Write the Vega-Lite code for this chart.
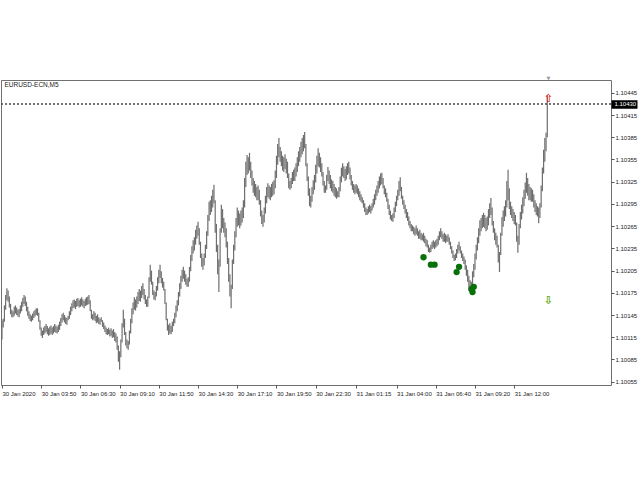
{
"$schema":"https://vega.github.io/schema/vega-lite/v6.json",
"width":610,"height":305,
"autosize":{"type":"none"},
"padding":{"left":1,"top":80,"right":29,"bottom":95},
"background":"white",
"config":{"view":{"stroke":"#707070","strokeWidth":1},"font":"Liberation Sans",
 "axis":{"title":null,"grid":false,"domain":false,"labelOverlap":false,"labelFlush":false,"labelBound":false,"labelFontSize":6,"labelFont":"Liberation Sans","labelColor":"#222","tickColor":"#555","tickSize":3},
 "axisX":{"labelAlign":"left","labelPadding":2},
 "axisY":{"labelPadding":1}},
"resolve":{"axis":{"y":"independent"}},
"datasets":{"bars":[
{"t":"2020-01-30T01:10Z","h":1.10138,"l":1.10112},{"t":"2020-01-30T01:15Z","h":1.10140,"l":1.10128},{"t":"2020-01-30T01:20Z","h":1.10158,"l":1.10136},{"t":"2020-01-30T01:25Z","h":1.10172,"l":1.10152},{"t":"2020-01-30T01:30Z","h":1.10181,"l":1.10165},{"t":"2020-01-30T01:35Z","h":1.10178,"l":1.10163},{"t":"2020-01-30T01:40Z","h":1.10170,"l":1.10155},{"t":"2020-01-30T01:45Z","h":1.10160,"l":1.10146},{"t":"2020-01-30T01:50Z","h":1.10152,"l":1.10142},{"t":"2020-01-30T01:55Z","h":1.10150,"l":1.10142},
{"t":"2020-01-30T02:00Z","h":1.10156,"l":1.10144},{"t":"2020-01-30T02:05Z","h":1.10158,"l":1.10147},{"t":"2020-01-30T02:10Z","h":1.10155,"l":1.10145},{"t":"2020-01-30T02:15Z","h":1.10152,"l":1.10143},{"t":"2020-01-30T02:20Z","h":1.10153,"l":1.10142},{"t":"2020-01-30T02:25Z","h":1.10158,"l":1.10147},{"t":"2020-01-30T02:30Z","h":1.10163,"l":1.10150},{"t":"2020-01-30T02:35Z","h":1.10168,"l":1.10156},{"t":"2020-01-30T02:40Z","h":1.10172,"l":1.10160},{"t":"2020-01-30T02:45Z","h":1.10170,"l":1.10157},{"t":"2020-01-30T02:50Z","h":1.10163,"l":1.10150},{"t":"2020-01-30T02:55Z","h":1.10156,"l":1.10144},
{"t":"2020-01-30T03:00Z","h":1.10150,"l":1.10140},{"t":"2020-01-30T03:05Z","h":1.10146,"l":1.10137},{"t":"2020-01-30T03:10Z","h":1.10144,"l":1.10136},{"t":"2020-01-30T03:15Z","h":1.10147,"l":1.10138},{"t":"2020-01-30T03:20Z","h":1.10150,"l":1.10141},{"t":"2020-01-30T03:25Z","h":1.10152,"l":1.10143},{"t":"2020-01-30T03:30Z","h":1.10154,"l":1.10145},{"t":"2020-01-30T03:35Z","h":1.10154,"l":1.10144},{"t":"2020-01-30T03:40Z","h":1.10148,"l":1.10136},{"t":"2020-01-30T03:45Z","h":1.10138,"l":1.10125},{"t":"2020-01-30T03:50Z","h":1.10128,"l":1.10117},{"t":"2020-01-30T03:55Z","h":1.10124,"l":1.10114},
{"t":"2020-01-30T04:00Z","h":1.10128,"l":1.10118},{"t":"2020-01-30T04:05Z","h":1.10130,"l":1.10120},{"t":"2020-01-30T04:10Z","h":1.10133,"l":1.10122},{"t":"2020-01-30T04:15Z","h":1.10130,"l":1.10119},{"t":"2020-01-30T04:20Z","h":1.10127,"l":1.10117},{"t":"2020-01-30T04:25Z","h":1.10129,"l":1.10118},{"t":"2020-01-30T04:30Z","h":1.10131,"l":1.10120},{"t":"2020-01-30T04:35Z","h":1.10128,"l":1.10118},{"t":"2020-01-30T04:40Z","h":1.10130,"l":1.10120},{"t":"2020-01-30T04:45Z","h":1.10133,"l":1.10122},{"t":"2020-01-30T04:50Z","h":1.10131,"l":1.10121},{"t":"2020-01-30T04:55Z","h":1.10129,"l":1.10120},
{"t":"2020-01-30T05:00Z","h":1.10132,"l":1.10122},{"t":"2020-01-30T05:05Z","h":1.10136,"l":1.10125},{"t":"2020-01-30T05:10Z","h":1.10141,"l":1.10130},{"t":"2020-01-30T05:15Z","h":1.10146,"l":1.10135},{"t":"2020-01-30T05:20Z","h":1.10148,"l":1.10138},{"t":"2020-01-30T05:25Z","h":1.10145,"l":1.10135},{"t":"2020-01-30T05:30Z","h":1.10142,"l":1.10133},{"t":"2020-01-30T05:35Z","h":1.10141,"l":1.10132},{"t":"2020-01-30T05:40Z","h":1.10144,"l":1.10138},{"t":"2020-01-30T05:45Z","h":1.10150,"l":1.10140},{"t":"2020-01-30T05:50Z","h":1.10156,"l":1.10145},{"t":"2020-01-30T05:55Z","h":1.10161,"l":1.10150},
{"t":"2020-01-30T06:00Z","h":1.10165,"l":1.10154},{"t":"2020-01-30T06:05Z","h":1.10166,"l":1.10155},{"t":"2020-01-30T06:10Z","h":1.10164,"l":1.10153},{"t":"2020-01-30T06:15Z","h":1.10167,"l":1.10156},{"t":"2020-01-30T06:20Z","h":1.10168,"l":1.10157},{"t":"2020-01-30T06:25Z","h":1.10165,"l":1.10155},{"t":"2020-01-30T06:30Z","h":1.10167,"l":1.10156},{"t":"2020-01-30T06:35Z","h":1.10169,"l":1.10158},{"t":"2020-01-30T06:40Z","h":1.10166,"l":1.10156},{"t":"2020-01-30T06:45Z","h":1.10164,"l":1.10154},{"t":"2020-01-30T06:50Z","h":1.10167,"l":1.10157},{"t":"2020-01-30T06:55Z","h":1.10169,"l":1.10158},
{"t":"2020-01-30T07:00Z","h":1.10170,"l":1.10159},{"t":"2020-01-30T07:05Z","h":1.10172,"l":1.10160},{"t":"2020-01-30T07:10Z","h":1.10165,"l":1.10150},{"t":"2020-01-30T07:15Z","h":1.10152,"l":1.10140},{"t":"2020-01-30T07:20Z","h":1.10146,"l":1.10138},{"t":"2020-01-30T07:25Z","h":1.10150,"l":1.10139},{"t":"2020-01-30T07:30Z","h":1.10148,"l":1.10137},{"t":"2020-01-30T07:35Z","h":1.10144,"l":1.10134},{"t":"2020-01-30T07:40Z","h":1.10146,"l":1.10135},{"t":"2020-01-30T07:45Z","h":1.10142,"l":1.10133},{"t":"2020-01-30T07:50Z","h":1.10140,"l":1.10132},{"t":"2020-01-30T07:55Z","h":1.10142,"l":1.10136},
{"t":"2020-01-30T08:00Z","h":1.10138,"l":1.10129},{"t":"2020-01-30T08:05Z","h":1.10135,"l":1.10126},{"t":"2020-01-30T08:10Z","h":1.10131,"l":1.10122},{"t":"2020-01-30T08:15Z","h":1.10128,"l":1.10119},{"t":"2020-01-30T08:20Z","h":1.10126,"l":1.10118},{"t":"2020-01-30T08:25Z","h":1.10128,"l":1.10119},{"t":"2020-01-30T08:30Z","h":1.10125,"l":1.10116},{"t":"2020-01-30T08:35Z","h":1.10127,"l":1.10117},{"t":"2020-01-30T08:40Z","h":1.10124,"l":1.10114},{"t":"2020-01-30T08:45Z","h":1.10126,"l":1.10115},{"t":"2020-01-30T08:50Z","h":1.10122,"l":1.10110},{"t":"2020-01-30T08:55Z","h":1.10120,"l":1.10108},
{"t":"2020-01-30T09:00Z","h":1.10116,"l":1.10098},{"t":"2020-01-30T09:05Z","h":1.10104,"l":1.10082},{"t":"2020-01-30T09:10Z","h":1.10096,"l":1.10071},{"t":"2020-01-30T09:15Z","h":1.10112,"l":1.10088},{"t":"2020-01-30T09:20Z","h":1.10134,"l":1.10108},{"t":"2020-01-30T09:25Z","h":1.10152,"l":1.10128},{"t":"2020-01-30T09:30Z","h":1.10140,"l":1.10118},{"t":"2020-01-30T09:35Z","h":1.10122,"l":1.10104},{"t":"2020-01-30T09:40Z","h":1.10112,"l":1.10100},{"t":"2020-01-30T09:45Z","h":1.10110,"l":1.10098},{"t":"2020-01-30T09:50Z","h":1.10124,"l":1.10105},{"t":"2020-01-30T09:55Z","h":1.10140,"l":1.10120},
{"t":"2020-01-30T10:00Z","h":1.10154,"l":1.10134},{"t":"2020-01-30T10:05Z","h":1.10162,"l":1.10146},{"t":"2020-01-30T10:10Z","h":1.10169,"l":1.10152},{"t":"2020-01-30T10:15Z","h":1.10166,"l":1.10151},{"t":"2020-01-30T10:20Z","h":1.10170,"l":1.10155},{"t":"2020-01-30T10:25Z","h":1.10176,"l":1.10160},{"t":"2020-01-30T10:30Z","h":1.10180,"l":1.10164},{"t":"2020-01-30T10:35Z","h":1.10178,"l":1.10163},{"t":"2020-01-30T10:40Z","h":1.10184,"l":1.10168},{"t":"2020-01-30T10:45Z","h":1.10188,"l":1.10172},{"t":"2020-01-30T10:50Z","h":1.10180,"l":1.10166},{"t":"2020-01-30T10:55Z","h":1.10172,"l":1.10160},
{"t":"2020-01-30T11:00Z","h":1.10166,"l":1.10156},{"t":"2020-01-30T11:05Z","h":1.10170,"l":1.10156},{"t":"2020-01-30T11:10Z","h":1.10196,"l":1.10168},{"t":"2020-01-30T11:15Z","h":1.10213,"l":1.10190},{"t":"2020-01-30T11:20Z","h":1.10205,"l":1.10186},{"t":"2020-01-30T11:25Z","h":1.10190,"l":1.10172},{"t":"2020-01-30T11:30Z","h":1.10178,"l":1.10166},{"t":"2020-01-30T11:35Z","h":1.10176,"l":1.10165},{"t":"2020-01-30T11:40Z","h":1.10184,"l":1.10170},{"t":"2020-01-30T11:45Z","h":1.10196,"l":1.10178},{"t":"2020-01-30T11:50Z","h":1.10206,"l":1.10188},{"t":"2020-01-30T11:55Z","h":1.10213,"l":1.10195},
{"t":"2020-01-30T12:00Z","h":1.10204,"l":1.10188},{"t":"2020-01-30T12:05Z","h":1.10195,"l":1.10182},{"t":"2020-01-30T12:10Z","h":1.10190,"l":1.10178},{"t":"2020-01-30T12:15Z","h":1.10180,"l":1.10160},{"t":"2020-01-30T12:20Z","h":1.10162,"l":1.10138},{"t":"2020-01-30T12:25Z","h":1.10140,"l":1.10124},{"t":"2020-01-30T12:30Z","h":1.10132,"l":1.10118},{"t":"2020-01-30T12:35Z","h":1.10134,"l":1.10120},{"t":"2020-01-30T12:40Z","h":1.10130,"l":1.10119},{"t":"2020-01-30T12:45Z","h":1.10136,"l":1.10122},{"t":"2020-01-30T12:50Z","h":1.10140,"l":1.10130},{"t":"2020-01-30T12:55Z","h":1.10148,"l":1.10134},
{"t":"2020-01-30T13:00Z","h":1.10158,"l":1.10142},{"t":"2020-01-30T13:05Z","h":1.10165,"l":1.10150},{"t":"2020-01-30T13:10Z","h":1.10176,"l":1.10158},{"t":"2020-01-30T13:15Z","h":1.10188,"l":1.10170},{"t":"2020-01-30T13:20Z","h":1.10198,"l":1.10180},{"t":"2020-01-30T13:25Z","h":1.10206,"l":1.10190},{"t":"2020-01-30T13:30Z","h":1.10210,"l":1.10194},{"t":"2020-01-30T13:35Z","h":1.10205,"l":1.10190},{"t":"2020-01-30T13:40Z","h":1.10200,"l":1.10186},{"t":"2020-01-30T13:45Z","h":1.10194,"l":1.10183},{"t":"2020-01-30T13:50Z","h":1.10196,"l":1.10183},{"t":"2020-01-30T13:55Z","h":1.10210,"l":1.10190},
{"t":"2020-01-30T14:00Z","h":1.10226,"l":1.10204},{"t":"2020-01-30T14:05Z","h":1.10238,"l":1.10218},{"t":"2020-01-30T14:10Z","h":1.10246,"l":1.10228},{"t":"2020-01-30T14:15Z","h":1.10250,"l":1.10232},{"t":"2020-01-30T14:20Z","h":1.10260,"l":1.10240},{"t":"2020-01-30T14:25Z","h":1.10266,"l":1.10248},{"t":"2020-01-30T14:30Z","h":1.10271,"l":1.10252},{"t":"2020-01-30T14:35Z","h":1.10262,"l":1.10240},{"t":"2020-01-30T14:40Z","h":1.10244,"l":1.10222},{"t":"2020-01-30T14:45Z","h":1.10228,"l":1.10210},{"t":"2020-01-30T14:50Z","h":1.10222,"l":1.10206},{"t":"2020-01-30T14:55Z","h":1.10228,"l":1.10212},
{"t":"2020-01-30T15:00Z","h":1.10240,"l":1.10222},{"t":"2020-01-30T15:05Z","h":1.10258,"l":1.10234},{"t":"2020-01-30T15:10Z","h":1.10280,"l":1.10252},{"t":"2020-01-30T15:15Z","h":1.10298,"l":1.10272},{"t":"2020-01-30T15:20Z","h":1.10300,"l":1.10280},{"t":"2020-01-30T15:25Z","h":1.10306,"l":1.10284},{"t":"2020-01-30T15:30Z","h":1.10314,"l":1.10290},{"t":"2020-01-30T15:35Z","h":1.10321,"l":1.10296},{"t":"2020-01-30T15:40Z","h":1.10300,"l":1.10256},{"t":"2020-01-30T15:45Z","h":1.10268,"l":1.10230},{"t":"2020-01-30T15:50Z","h":1.10240,"l":1.10200},{"t":"2020-01-30T15:55Z","h":1.10220,"l":1.10176},
{"t":"2020-01-30T16:00Z","h":1.10262,"l":1.10210},{"t":"2020-01-30T16:05Z","h":1.10294,"l":1.10256},{"t":"2020-01-30T16:10Z","h":1.10288,"l":1.10262},{"t":"2020-01-30T16:15Z","h":1.10276,"l":1.10256},{"t":"2020-01-30T16:20Z","h":1.10270,"l":1.10250},{"t":"2020-01-30T16:25Z","h":1.10262,"l":1.10236},{"t":"2020-01-30T16:30Z","h":1.10244,"l":1.10214},{"t":"2020-01-30T16:35Z","h":1.10222,"l":1.10190},{"t":"2020-01-30T16:40Z","h":1.10200,"l":1.10170},{"t":"2020-01-30T16:45Z","h":1.10186,"l":1.10154},{"t":"2020-01-30T16:50Z","h":1.10220,"l":1.10180},{"t":"2020-01-30T16:55Z","h":1.10240,"l":1.10214},
{"t":"2020-01-30T17:00Z","h":1.10258,"l":1.10232},{"t":"2020-01-30T17:05Z","h":1.10276,"l":1.10250},{"t":"2020-01-30T17:10Z","h":1.10290,"l":1.10264},{"t":"2020-01-30T17:15Z","h":1.10286,"l":1.10266},{"t":"2020-01-30T17:20Z","h":1.10282,"l":1.10262},{"t":"2020-01-30T17:25Z","h":1.10286,"l":1.10266},{"t":"2020-01-30T17:30Z","h":1.10290,"l":1.10270},{"t":"2020-01-30T17:35Z","h":1.10300,"l":1.10276},{"t":"2020-01-30T17:40Z","h":1.10330,"l":1.10290},{"t":"2020-01-30T17:45Z","h":1.10352,"l":1.10318},{"t":"2020-01-30T17:50Z","h":1.10361,"l":1.10334},{"t":"2020-01-30T17:55Z","h":1.10358,"l":1.10336},
{"t":"2020-01-30T18:00Z","h":1.10364,"l":1.10340},{"t":"2020-01-30T18:05Z","h":1.10352,"l":1.10330},{"t":"2020-01-30T18:10Z","h":1.10340,"l":1.10320},{"t":"2020-01-30T18:15Z","h":1.10330,"l":1.10310},{"t":"2020-01-30T18:20Z","h":1.10326,"l":1.10306},{"t":"2020-01-30T18:25Z","h":1.10322,"l":1.10304},{"t":"2020-01-30T18:30Z","h":1.10318,"l":1.10300},{"t":"2020-01-30T18:35Z","h":1.10320,"l":1.10300},{"t":"2020-01-30T18:40Z","h":1.10314,"l":1.10294},{"t":"2020-01-30T18:45Z","h":1.10300,"l":1.10278},{"t":"2020-01-30T18:50Z","h":1.10286,"l":1.10268},{"t":"2020-01-30T18:55Z","h":1.10280,"l":1.10264},
{"t":"2020-01-30T19:00Z","h":1.10290,"l":1.10270},{"t":"2020-01-30T19:05Z","h":1.10306,"l":1.10282},{"t":"2020-01-30T19:10Z","h":1.10318,"l":1.10296},{"t":"2020-01-30T19:15Z","h":1.10323,"l":1.10304},{"t":"2020-01-30T19:20Z","h":1.10320,"l":1.10302},{"t":"2020-01-30T19:25Z","h":1.10318,"l":1.10300},{"t":"2020-01-30T19:30Z","h":1.10322,"l":1.10304},{"t":"2020-01-30T19:35Z","h":1.10325,"l":1.10306},{"t":"2020-01-30T19:40Z","h":1.10327,"l":1.10308},{"t":"2020-01-30T19:45Z","h":1.10340,"l":1.10316},{"t":"2020-01-30T19:50Z","h":1.10360,"l":1.10330},{"t":"2020-01-30T19:55Z","h":1.10376,"l":1.10348},
{"t":"2020-01-30T20:00Z","h":1.10384,"l":1.10358},{"t":"2020-01-30T20:05Z","h":1.10372,"l":1.10352},{"t":"2020-01-30T20:10Z","h":1.10366,"l":1.10346},{"t":"2020-01-30T20:15Z","h":1.10360,"l":1.10340},{"t":"2020-01-30T20:20Z","h":1.10358,"l":1.10338},{"t":"2020-01-30T20:25Z","h":1.10362,"l":1.10342},{"t":"2020-01-30T20:30Z","h":1.10356,"l":1.10336},{"t":"2020-01-30T20:35Z","h":1.10352,"l":1.10330},{"t":"2020-01-30T20:40Z","h":1.10336,"l":1.10316},{"t":"2020-01-30T20:45Z","h":1.10326,"l":1.10314},{"t":"2020-01-30T20:50Z","h":1.10330,"l":1.10316},{"t":"2020-01-30T20:55Z","h":1.10338,"l":1.10322},
{"t":"2020-01-30T21:00Z","h":1.10341,"l":1.10326},{"t":"2020-01-30T21:05Z","h":1.10344,"l":1.10326},{"t":"2020-01-30T21:10Z","h":1.10350,"l":1.10332},{"t":"2020-01-30T21:15Z","h":1.10358,"l":1.10338},{"t":"2020-01-30T21:20Z","h":1.10366,"l":1.10346},{"t":"2020-01-30T21:25Z","h":1.10372,"l":1.10352},{"t":"2020-01-30T21:30Z","h":1.10379,"l":1.10358},{"t":"2020-01-30T21:35Z","h":1.10384,"l":1.10362},{"t":"2020-01-30T21:40Z","h":1.10388,"l":1.10366},{"t":"2020-01-30T21:45Z","h":1.10392,"l":1.10370},{"t":"2020-01-30T21:50Z","h":1.10376,"l":1.10346},{"t":"2020-01-30T21:55Z","h":1.10350,"l":1.10326},
{"t":"2020-01-30T22:00Z","h":1.10332,"l":1.10306},{"t":"2020-01-30T22:05Z","h":1.10316,"l":1.10292},{"t":"2020-01-30T22:10Z","h":1.10306,"l":1.10290},{"t":"2020-01-30T22:15Z","h":1.10318,"l":1.10298},{"t":"2020-01-30T22:20Z","h":1.10327,"l":1.10308},{"t":"2020-01-30T22:25Z","h":1.10334,"l":1.10314},{"t":"2020-01-30T22:30Z","h":1.10348,"l":1.10324},{"t":"2020-01-30T22:35Z","h":1.10360,"l":1.10336},{"t":"2020-01-30T22:40Z","h":1.10370,"l":1.10346},{"t":"2020-01-30T22:45Z","h":1.10364,"l":1.10344},{"t":"2020-01-30T22:50Z","h":1.10358,"l":1.10338},{"t":"2020-01-30T22:55Z","h":1.10350,"l":1.10332},
{"t":"2020-01-30T23:00Z","h":1.10338,"l":1.10320},{"t":"2020-01-30T23:05Z","h":1.10326,"l":1.10310},{"t":"2020-01-30T23:10Z","h":1.10320,"l":1.10310},{"t":"2020-01-30T23:15Z","h":1.10334,"l":1.10314},{"t":"2020-01-30T23:20Z","h":1.10345,"l":1.10326},{"t":"2020-01-30T23:25Z","h":1.10340,"l":1.10322},{"t":"2020-01-30T23:30Z","h":1.10334,"l":1.10316},{"t":"2020-01-30T23:35Z","h":1.10328,"l":1.10312},{"t":"2020-01-30T23:40Z","h":1.10326,"l":1.10310},{"t":"2020-01-30T23:45Z","h":1.10322,"l":1.10306},{"t":"2020-01-30T23:50Z","h":1.10318,"l":1.10304},{"t":"2020-01-30T23:55Z","h":1.10316,"l":1.10302},
{"t":"2020-01-31T00:00Z","h":1.10312,"l":1.10304},{"t":"2020-01-31T00:05Z","h":1.10318,"l":1.10304},{"t":"2020-01-31T00:10Z","h":1.10332,"l":1.10312},{"t":"2020-01-31T00:15Z","h":1.10344,"l":1.10324},{"t":"2020-01-31T00:20Z","h":1.10350,"l":1.10332},{"t":"2020-01-31T00:25Z","h":1.10346,"l":1.10330},{"t":"2020-01-31T00:30Z","h":1.10342,"l":1.10326},{"t":"2020-01-31T00:35Z","h":1.10346,"l":1.10328},{"t":"2020-01-31T00:40Z","h":1.10350,"l":1.10334},{"t":"2020-01-31T00:45Z","h":1.10352,"l":1.10336},{"t":"2020-01-31T00:50Z","h":1.10344,"l":1.10328},{"t":"2020-01-31T00:55Z","h":1.10334,"l":1.10320},
{"t":"2020-01-31T01:00Z","h":1.10326,"l":1.10314},{"t":"2020-01-31T01:05Z","h":1.10322,"l":1.10310},{"t":"2020-01-31T01:10Z","h":1.10320,"l":1.10308},{"t":"2020-01-31T01:15Z","h":1.10322,"l":1.10310},{"t":"2020-01-31T01:20Z","h":1.10320,"l":1.10308},{"t":"2020-01-31T01:25Z","h":1.10316,"l":1.10304},{"t":"2020-01-31T01:30Z","h":1.10312,"l":1.10300},{"t":"2020-01-31T01:35Z","h":1.10308,"l":1.10298},{"t":"2020-01-31T01:40Z","h":1.10304,"l":1.10296},{"t":"2020-01-31T01:45Z","h":1.10300,"l":1.10290},{"t":"2020-01-31T01:50Z","h":1.10296,"l":1.10284},{"t":"2020-01-31T01:55Z","h":1.10290,"l":1.10280},
{"t":"2020-01-31T02:00Z","h":1.10288,"l":1.10280},{"t":"2020-01-31T02:05Z","h":1.10292,"l":1.10282},{"t":"2020-01-31T02:10Z","h":1.10294,"l":1.10284},{"t":"2020-01-31T02:15Z","h":1.10292,"l":1.10282},{"t":"2020-01-31T02:20Z","h":1.10296,"l":1.10286},{"t":"2020-01-31T02:25Z","h":1.10302,"l":1.10290},{"t":"2020-01-31T02:30Z","h":1.10308,"l":1.10294},{"t":"2020-01-31T02:35Z","h":1.10314,"l":1.10300},{"t":"2020-01-31T02:40Z","h":1.10320,"l":1.10306},{"t":"2020-01-31T02:45Z","h":1.10326,"l":1.10310},{"t":"2020-01-31T02:50Z","h":1.10332,"l":1.10316},{"t":"2020-01-31T02:55Z","h":1.10336,"l":1.10320},
{"t":"2020-01-31T03:00Z","h":1.10337,"l":1.10322},{"t":"2020-01-31T03:05Z","h":1.10330,"l":1.10316},{"t":"2020-01-31T03:10Z","h":1.10320,"l":1.10308},{"t":"2020-01-31T03:15Z","h":1.10316,"l":1.10304},{"t":"2020-01-31T03:20Z","h":1.10310,"l":1.10298},{"t":"2020-01-31T03:25Z","h":1.10302,"l":1.10288},{"t":"2020-01-31T03:30Z","h":1.10294,"l":1.10280},{"t":"2020-01-31T03:35Z","h":1.10286,"l":1.10274},{"t":"2020-01-31T03:40Z","h":1.10280,"l":1.10272},{"t":"2020-01-31T03:45Z","h":1.10282,"l":1.10271},{"t":"2020-01-31T03:50Z","h":1.10290,"l":1.10276},{"t":"2020-01-31T03:55Z","h":1.10298,"l":1.10284},
{"t":"2020-01-31T04:00Z","h":1.10306,"l":1.10292},{"t":"2020-01-31T04:05Z","h":1.10314,"l":1.10300},{"t":"2020-01-31T04:10Z","h":1.10326,"l":1.10306},{"t":"2020-01-31T04:15Z","h":1.10331,"l":1.10312},{"t":"2020-01-31T04:20Z","h":1.10318,"l":1.10302},{"t":"2020-01-31T04:25Z","h":1.10306,"l":1.10294},{"t":"2020-01-31T04:30Z","h":1.10300,"l":1.10288},{"t":"2020-01-31T04:35Z","h":1.10294,"l":1.10282},{"t":"2020-01-31T04:40Z","h":1.10288,"l":1.10276},{"t":"2020-01-31T04:45Z","h":1.10284,"l":1.10272},{"t":"2020-01-31T04:50Z","h":1.10278,"l":1.10266},{"t":"2020-01-31T04:55Z","h":1.10272,"l":1.10262},
{"t":"2020-01-31T05:00Z","h":1.10268,"l":1.10258},{"t":"2020-01-31T05:05Z","h":1.10266,"l":1.10258},{"t":"2020-01-31T05:10Z","h":1.10264,"l":1.10254},{"t":"2020-01-31T05:15Z","h":1.10262,"l":1.10252},{"t":"2020-01-31T05:20Z","h":1.10266,"l":1.10254},{"t":"2020-01-31T05:25Z","h":1.10262,"l":1.10252},{"t":"2020-01-31T05:30Z","h":1.10258,"l":1.10248},{"t":"2020-01-31T05:35Z","h":1.10260,"l":1.10248},{"t":"2020-01-31T05:40Z","h":1.10256,"l":1.10246},{"t":"2020-01-31T05:45Z","h":1.10254,"l":1.10246},{"t":"2020-01-31T05:50Z","h":1.10256,"l":1.10244},{"t":"2020-01-31T05:55Z","h":1.10252,"l":1.10242},
{"t":"2020-01-31T06:00Z","h":1.10248,"l":1.10238},{"t":"2020-01-31T06:05Z","h":1.10246,"l":1.10236},{"t":"2020-01-31T06:10Z","h":1.10240,"l":1.10230},{"t":"2020-01-31T06:15Z","h":1.10236,"l":1.10229},{"t":"2020-01-31T06:20Z","h":1.10240,"l":1.10230},{"t":"2020-01-31T06:25Z","h":1.10244,"l":1.10234},{"t":"2020-01-31T06:30Z","h":1.10246,"l":1.10236},{"t":"2020-01-31T06:35Z","h":1.10244,"l":1.10234},{"t":"2020-01-31T06:40Z","h":1.10246,"l":1.10236},{"t":"2020-01-31T06:45Z","h":1.10248,"l":1.10238},{"t":"2020-01-31T06:50Z","h":1.10252,"l":1.10240},{"t":"2020-01-31T06:55Z","h":1.10258,"l":1.10246},
{"t":"2020-01-31T07:00Z","h":1.10262,"l":1.10250},{"t":"2020-01-31T07:05Z","h":1.10258,"l":1.10248},{"t":"2020-01-31T07:10Z","h":1.10254,"l":1.10244},{"t":"2020-01-31T07:15Z","h":1.10256,"l":1.10244},{"t":"2020-01-31T07:20Z","h":1.10254,"l":1.10242},{"t":"2020-01-31T07:25Z","h":1.10252,"l":1.10244},{"t":"2020-01-31T07:30Z","h":1.10254,"l":1.10244},{"t":"2020-01-31T07:35Z","h":1.10250,"l":1.10240},{"t":"2020-01-31T07:40Z","h":1.10244,"l":1.10234},{"t":"2020-01-31T07:45Z","h":1.10238,"l":1.10228},{"t":"2020-01-31T07:50Z","h":1.10232,"l":1.10222},{"t":"2020-01-31T07:55Z","h":1.10226,"l":1.10218},
{"t":"2020-01-31T08:00Z","h":1.10228,"l":1.10219},{"t":"2020-01-31T08:05Z","h":1.10234,"l":1.10222},{"t":"2020-01-31T08:10Z","h":1.10240,"l":1.10228},{"t":"2020-01-31T08:15Z","h":1.10244,"l":1.10232},{"t":"2020-01-31T08:20Z","h":1.10238,"l":1.10228},{"t":"2020-01-31T08:25Z","h":1.10232,"l":1.10222},{"t":"2020-01-31T08:30Z","h":1.10228,"l":1.10218},{"t":"2020-01-31T08:35Z","h":1.10224,"l":1.10214},{"t":"2020-01-31T08:40Z","h":1.10220,"l":1.10206},{"t":"2020-01-31T08:45Z","h":1.10212,"l":1.10198},{"t":"2020-01-31T08:50Z","h":1.10206,"l":1.10190},{"t":"2020-01-31T08:55Z","h":1.10198,"l":1.10182},
{"t":"2020-01-31T09:00Z","h":1.10192,"l":1.10176},{"t":"2020-01-31T09:05Z","h":1.10190,"l":1.10172},{"t":"2020-01-31T09:10Z","h":1.10204,"l":1.10180},{"t":"2020-01-31T09:15Z","h":1.10214,"l":1.10196},{"t":"2020-01-31T09:20Z","h":1.10228,"l":1.10206},{"t":"2020-01-31T09:25Z","h":1.10240,"l":1.10220},{"t":"2020-01-31T09:30Z","h":1.10250,"l":1.10232},{"t":"2020-01-31T09:35Z","h":1.10262,"l":1.10242},{"t":"2020-01-31T09:40Z","h":1.10273,"l":1.10252},{"t":"2020-01-31T09:45Z","h":1.10276,"l":1.10258},{"t":"2020-01-31T09:50Z","h":1.10280,"l":1.10262},{"t":"2020-01-31T09:55Z","h":1.10283,"l":1.10264},
{"t":"2020-01-31T10:00Z","h":1.10280,"l":1.10262},{"t":"2020-01-31T10:05Z","h":1.10276,"l":1.10258},{"t":"2020-01-31T10:10Z","h":1.10278,"l":1.10260},{"t":"2020-01-31T10:15Z","h":1.10288,"l":1.10266},{"t":"2020-01-31T10:20Z","h":1.10296,"l":1.10276},{"t":"2020-01-31T10:25Z","h":1.10303,"l":1.10280},{"t":"2020-01-31T10:30Z","h":1.10290,"l":1.10266},{"t":"2020-01-31T10:35Z","h":1.10272,"l":1.10256},{"t":"2020-01-31T10:40Z","h":1.10262,"l":1.10246},{"t":"2020-01-31T10:45Z","h":1.10256,"l":1.10240},{"t":"2020-01-31T10:50Z","h":1.10252,"l":1.10236},{"t":"2020-01-31T10:55Z","h":1.10240,"l":1.10216},
{"t":"2020-01-31T11:00Z","h":1.10230,"l":1.10203},{"t":"2020-01-31T11:05Z","h":1.10256,"l":1.10226},{"t":"2020-01-31T11:10Z","h":1.10277,"l":1.10252},{"t":"2020-01-31T11:15Z","h":1.10286,"l":1.10264},{"t":"2020-01-31T11:20Z","h":1.10292,"l":1.10272},{"t":"2020-01-31T11:25Z","h":1.10300,"l":1.10278},{"t":"2020-01-31T11:30Z","h":1.10326,"l":1.10290},{"t":"2020-01-31T11:35Z","h":1.10341,"l":1.10300},{"t":"2020-01-31T11:40Z","h":1.10316,"l":1.10288},{"t":"2020-01-31T11:45Z","h":1.10298,"l":1.10280},{"t":"2020-01-31T11:50Z","h":1.10292,"l":1.10276},{"t":"2020-01-31T11:55Z","h":1.10288,"l":1.10272},
{"t":"2020-01-31T12:00Z","h":1.10284,"l":1.10268},{"t":"2020-01-31T12:05Z","h":1.10280,"l":1.10266},{"t":"2020-01-31T12:10Z","h":1.10270,"l":1.10244},{"t":"2020-01-31T12:15Z","h":1.10252,"l":1.10229},{"t":"2020-01-31T12:20Z","h":1.10268,"l":1.10240},{"t":"2020-01-31T12:25Z","h":1.10284,"l":1.10262},{"t":"2020-01-31T12:30Z","h":1.10294,"l":1.10274},{"t":"2020-01-31T12:35Z","h":1.10304,"l":1.10282},{"t":"2020-01-31T12:40Z","h":1.10314,"l":1.10292},{"t":"2020-01-31T12:45Z","h":1.10324,"l":1.10302},{"t":"2020-01-31T12:50Z","h":1.10337,"l":1.10310},{"t":"2020-01-31T12:55Z","h":1.10330,"l":1.10306},
{"t":"2020-01-31T13:00Z","h":1.10322,"l":1.10300},{"t":"2020-01-31T13:05Z","h":1.10318,"l":1.10300},{"t":"2020-01-31T13:10Z","h":1.10316,"l":1.10298},{"t":"2020-01-31T13:15Z","h":1.10314,"l":1.10298},{"t":"2020-01-31T13:20Z","h":1.10308,"l":1.10290},{"t":"2020-01-31T13:25Z","h":1.10300,"l":1.10284},{"t":"2020-01-31T13:30Z","h":1.10296,"l":1.10280},{"t":"2020-01-31T13:35Z","h":1.10292,"l":1.10278},{"t":"2020-01-31T13:40Z","h":1.10290,"l":1.10269},{"t":"2020-01-31T13:45Z","h":1.10296,"l":1.10276},{"t":"2020-01-31T13:50Z","h":1.10320,"l":1.10290},{"t":"2020-01-31T13:55Z","h":1.10344,"l":1.10312},
{"t":"2020-01-31T14:00Z","h":1.10368,"l":1.10336},{"t":"2020-01-31T14:05Z","h":1.10384,"l":1.10352},{"t":"2020-01-31T14:10Z","h":1.10391,"l":1.10366},{"t":"2020-01-31T14:15Z","h":1.10442,"l":1.10385}
]},
"layer":[
{"data":{"name":"bars"},
 "mark":{"type":"rule","color":"#6e6e6e","strokeWidth":1.2},
 "encoding":{
  "x":{"field":"t","type":"temporal",
   "scale":{"type":"utc","domain":[{"year":2020,"month":1,"date":30,"hours":1,"minutes":6,"utc":true},{"year":2020,"month":1,"date":31,"hours":18,"minutes":35,"utc":true}]},
   "axis":{
    "values":[{"year":2020,"month":1,"date":30,"hours":1,"minutes":10,"utc":true},{"year":2020,"month":1,"date":30,"hours":3,"minutes":50,"utc":true},{"year":2020,"month":1,"date":30,"hours":6,"minutes":30,"utc":true},{"year":2020,"month":1,"date":30,"hours":9,"minutes":10,"utc":true},{"year":2020,"month":1,"date":30,"hours":11,"minutes":50,"utc":true},{"year":2020,"month":1,"date":30,"hours":14,"minutes":30,"utc":true},{"year":2020,"month":1,"date":30,"hours":17,"minutes":10,"utc":true},{"year":2020,"month":1,"date":30,"hours":19,"minutes":50,"utc":true},{"year":2020,"month":1,"date":30,"hours":22,"minutes":30,"utc":true},{"year":2020,"month":1,"date":31,"hours":1,"minutes":15,"utc":true},{"year":2020,"month":1,"date":31,"hours":4,"minutes":0,"utc":true},{"year":2020,"month":1,"date":31,"hours":6,"minutes":40,"utc":true},{"year":2020,"month":1,"date":31,"hours":9,"minutes":20,"utc":true},{"year":2020,"month":1,"date":31,"hours":12,"minutes":0,"utc":true}],
    "format":"%d %b %H:%M",
    "labelExpr":"datum.index == 0 ? '30 Jan 2020' : datum.label"}},
  "y":{"field":"l","type":"quantitative",
   "scale":{"domain":[1.100505,1.104623],"zero":false,"nice":false},
   "axis":{"orient":"right","labelOverlap":false,
    "values":[1.10055,1.10085,1.10115,1.10145,1.10175,1.10205,1.10235,1.10265,1.10295,1.10325,1.10355,1.10385,1.10415,1.10445],
    "format":".5f"}},
  "y2":{"field":"h"}}},
{"data":{"values":[{"price":1.1043}]},
 "mark":{"type":"rule","color":"#444","strokeDash":[2,2],"strokeWidth":1.5},
 "encoding":{"y":{"field":"price","type":"quantitative",
   "axis":{"orient":"right","values":[1.1043],"format":".5f","tickSize":26,"tickWidth":8.5,"tickColor":"#000000","labelColor":"#ffffff","labelPadding":-23}}}},
{"data":{"values":[{"t":"2020-01-31T05:50Z","p":1.10223},{"t":"2020-01-31T06:20Z","p":1.10213},{"t":"2020-01-31T06:35Z","p":1.10213},{"t":"2020-01-31T08:05Z","p":1.10203},{"t":"2020-01-31T08:15Z","p":1.10210},{"t":"2020-01-31T09:05Z","p":1.10180},{"t":"2020-01-31T09:10Z","p":1.10176},{"t":"2020-01-31T09:15Z","p":1.10183}]},
 "mark":{"type":"point","filled":true,"color":"#087008","size":40,"opacity":1},
 "encoding":{"x":{"field":"t","type":"temporal","scale":{"type":"utc"}},"y":{"field":"p","type":"quantitative","axis":null}}},
{"data":{"values":[{"t":"2020-01-31T14:15Z","p":1.10164,"s":"⇩","kind":"buy"},{"t":"2020-01-31T14:15Z","p":1.10437,"s":"⇧","kind":"sell"}]},
 "mark":{"type":"text","font":"DejaVu Sans","fontSize":11,"fontWeight":"bold","dx":1},
 "encoding":{"x":{"field":"t","type":"temporal","scale":{"type":"utc"}},"y":{"field":"p","type":"quantitative","axis":null},"text":{"field":"s"},
  "color":{"field":"kind","type":"nominal","scale":{"domain":["buy","sell"],"range":["#5aa800","#e03030"]},"legend":null}}},
{"data":{"values":[{"t":"2020-01-30T01:20Z","p":1.10456,"label":"EURUSD-ECN,M5"}]},
 "mark":{"type":"text","align":"left","baseline":"middle","fontSize":6.5,"color":"#222","font":"Liberation Sans"},
 "encoding":{"x":{"field":"t","type":"temporal","scale":{"type":"utc"}},"y":{"field":"p","type":"quantitative","axis":null},"text":{"field":"label"}}},
{"data":{"values":[{"t":"2020-01-31T14:20Z","p":1.104623}]},
 "mark":{"type":"text","text":"▼","fontSize":5,"color":"#999","baseline":"bottom","dy":1,"font":"DejaVu Sans"},
 "encoding":{"x":{"field":"t","type":"temporal","scale":{"type":"utc"}},"y":{"field":"p","type":"quantitative","axis":null}}}
]
}
